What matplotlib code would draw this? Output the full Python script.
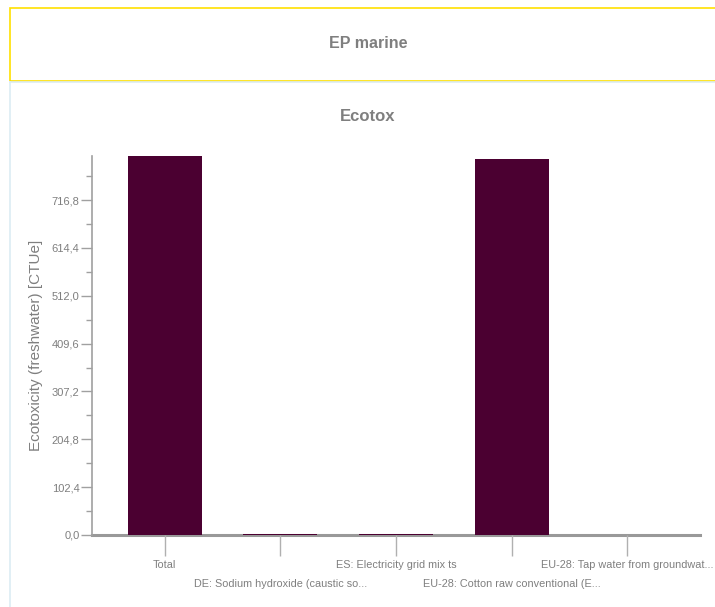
import matplotlib
matplotlib.use("Agg")
import matplotlib.pyplot as plt
from matplotlib.patches import Rectangle
from matplotlib.lines import Line2D
from matplotlib.ticker import MultipleLocator, FuncFormatter
import matplotlib.font_manager as fm

categories = ["Total",
              "DE: Sodium hydroxide (caustic so...",
              "ES: Electricity grid mix ts",
              "EU-28: Cotton raw conventional (E...",
              "EU-28: Tap water from groundwat..."]
values = [811.0, 2.5, 2.5, 805.0, -1.0]
major_step = 102.4
chart_title = "Ecotox"
panel_title = "EP marine"
ylabel = "Ecotoxicity (freshwater) [CTUe]"

names = {f.name for f in fm.fontManager.ttflist}
narrow = "Liberation Sans Narrow" if "Liberation Sans Narrow" in names else "Liberation Sans"
regular = "Liberation Sans"

gray = "#7f7f7f"
bar_color = "#4b0031"

fig = plt.figure(figsize=(7.15, 6.07), dpi=100)
W, H = 715, 607

# panel frames
fig.add_artist(Rectangle((10 / W, 1 - 81 / H), 1.2, (81 - 8) / H, transform=fig.transFigure,
                         fill=False, edgecolor="#ffe000", linewidth=1.2))
fig.add_artist(Line2D([10 / W, 1.0], [1 - 82 / H, 1 - 82 / H], transform=fig.transFigure,
                      color="#dcecf3", linewidth=1.2))
fig.add_artist(Line2D([9.5 / W, 9.5 / W], [0, 1 - 82 / H], transform=fig.transFigure,
                      color="#dcecf3", linewidth=1.2))

fig.text(368 / W, 1 - 43 / H, panel_title, ha="center", va="center", color=gray,
         fontsize=11.5, fontweight="bold", family=[narrow, "DejaVu Sans"])
fig.text(368 / W, 1 - 116 / H, chart_title, ha="center", va="center", color=gray,
         fontsize=12, fontweight="bold", family=[narrow, "DejaVu Sans"])

ax = fig.add_axes([92 / W, 1 - 535 / H, (700 - 92) / W, (535 - 156) / H])
x = list(range(len(categories)))
ax.bar(x, values, width=0.64, color=bar_color, zorder=2)
ax.set_xlim(-0.63, len(categories) - 1 + 0.63)
ax.set_ylim(0, max(values))

for s in ["top", "right"]:
    ax.spines[s].set_visible(False)
ax.spines["left"].set_color("#a0a0a0")
ax.spines["left"].set_linewidth(1.2)
ax.spines["bottom"].set_color("#999999")
ax.spines["bottom"].set_linewidth(2.2)
ax.spines["bottom"].set_zorder(1)

ax.yaxis.set_major_locator(MultipleLocator(major_step))
ax.yaxis.set_minor_locator(MultipleLocator(major_step / 2))
ax.yaxis.set_major_formatter(FuncFormatter(lambda v, p: f"{v:.1f}".replace(".", ",")))
ax.tick_params(axis="y", which="major", length=8, width=1, color="#a0a0a0",
               labelcolor=gray, labelsize=8, pad=1)
ax.tick_params(axis="y", which="minor", length=4, width=1, color="#a0a0a0")
ax.set_xticks(x)
ax.set_xticklabels(categories)
ax.tick_params(axis="x", length=15, width=1, color="#b0b0b0", labelcolor=gray,
               labelsize=7.8, pad=3)
for i, lab in enumerate(ax.get_xticklabels()):
    lab.set_family([narrow, "DejaVu Sans"])
    if i % 2 == 1:
        lab.set_y(-0.05)
for lab in ax.get_yticklabels():
    lab.set_family([narrow, "DejaVu Sans"])

ax.set_ylabel(ylabel, color=gray, fontsize=11, family=[regular, "DejaVu Sans"], labelpad=6)

fig.savefig("out.png", dpi=100)
